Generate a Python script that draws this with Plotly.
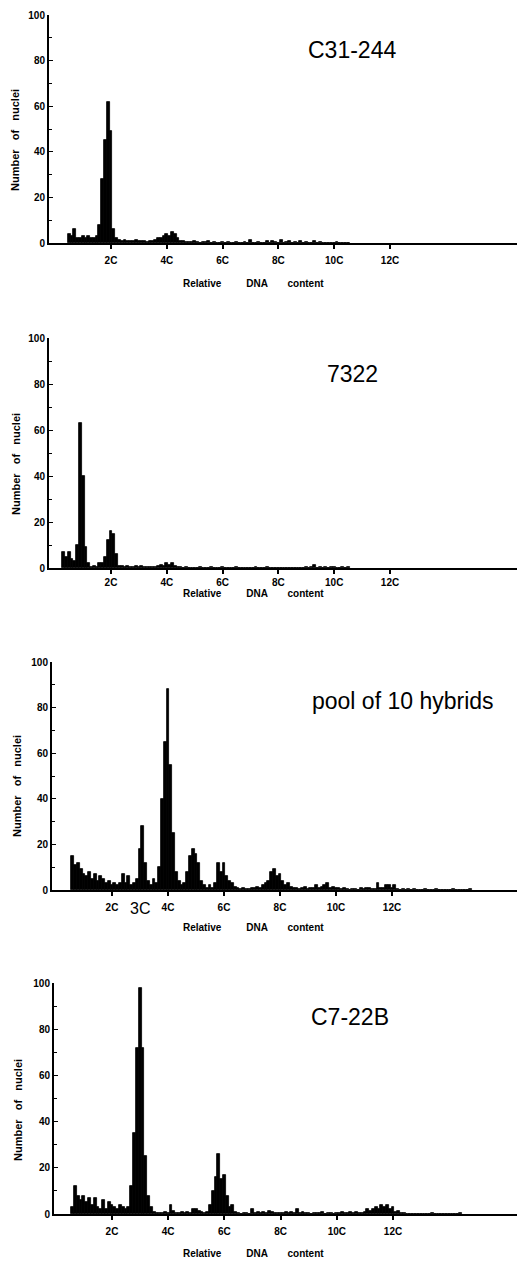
import plotly.graph_objects as go

W, H = 517, 1261

# ---------------- data (histogram counts, bins of 0.1 C) ----------------
titles = ["C31-244", "7322", "pool of 10 hybrids", "C7-22B"]
bin_starts = [0.5, 0.3, 0.6, 0.6]
bin_width = 0.1

counts_c31_244 = [
    4, 3, 6, 2, 2, 3, 2, 3, 2, 2, 3,
    8, 28, 45, 62, 49, 6,
    2, 1.5, 1, 1.5, 1, 1, 1, 1.5, 1,
    1, 1, 0.5, 1, 1, 1.5, 2, 2, 3, 4,
    3, 5, 4, 2, 1, 1, 0.5, 0.5, 0.5, 1,
    0.5, 0, 0.5, 0.5, 1, 0, 0.5, 0, 0, 0.5,
    0, 0.5, 0, 0, 0.5, 0, 0, 0.5, 0, 1.5,
    0, 0, 0.5, 0, 0, 1, 0, 1, 0.5, 0,
    1.5, 0, 0.5, 1, 0, 0.5, 0, 1, 0, 0.5,
    0, 0, 1, 0, 0.5, 0, 0, 0, 0, 0,
    0.5, 0, 0, 0, 0,
]

counts_7322 = [
    7, 5, 7, 4, 3, 10, 63, 40, 9, 2,
    0.5, 1, 0.5, 2, 2, 5, 12, 16, 15, 6,
    1, 1, 0.5, 1, 0.5, 0.5, 1, 0.5, 1, 0.5,
    0.5, 0.5, 0.5, 0.5, 1, 1.5, 1, 2, 1.5, 2,
    1, 0.5, 0.5, 0, 0.5, 0, 0, 0, 0, 0.5,
    0, 0, 0, 0.5, 0, 0, 0, 0.5, 0, 0,
    0, 0, 0.5, 0, 0, 0, 0, 0, 0, 0.5,
    0, 0, 0, 0.5, 0, 0, 0, 0, 0, 0,
    0, 0, 0, 0, 0, 0, 0, 0.5, 0, 0.5,
    1.5, 0, 0.5, 0, 0.5, 0, 0.5, 0.5, 0, 0,
    0.5, 0, 0.5,
]

counts_pool = [
    15, 11, 12, 9, 7, 6, 8, 5, 7, 4,
    6, 5, 3, 4, 2, 3, 2, 3, 7, 3,
    6, 2, 3, 5, 18, 28, 12, 4, 2, 5,
    3, 10, 40, 65, 88, 55, 25, 8, 4, 2,
    3, 8, 15, 18, 16, 12, 4, 2, 1, 2,
    1, 3, 12, 8, 12, 6, 4, 3, 1.5, 1,
    0.5, 1, 0.5, 0.5, 1, 1, 1.5, 1, 2, 3,
    4, 8, 9, 6, 7, 4, 2, 3, 1.5, 1,
    1, 0.5, 1, 1.5, 0.5, 1, 1, 2, 1, 1.5,
    2, 3, 1, 1.5, 1, 1, 0.5, 1, 0.5, 0,
    0.5, 0.5, 0, 1, 0.5, 1, 1, 0.5, 0.5, 3,
    1, 1, 2, 2, 1, 2, 0.5, 0, 0.5, 0,
    0.5, 0, 0.5, 0, 0, 0, 0.5, 0, 0, 0,
    0.5, 0, 0, 0, 0, 0, 0.5, 0, 0, 0,
    0, 0, 0.5,
]

counts_c7_22b = [
    3, 12, 8, 6, 8, 5, 7, 4, 7, 3,
    2, 6, 2, 5, 4, 3, 2, 4, 3, 2,
    3, 12, 35, 72, 98, 72, 25, 8, 3, 1,
    0.5, 0.5, 0.5, 1, 0.5, 4, 1.5, 0.5, 0.5, 1,
    0.5, 1, 0.5, 2, 2, 1.5, 1, 0.5, 1, 4,
    10, 16, 26, 15, 17, 8, 3, 4, 1, 0.5,
    0, 0.5, 0.5, 0, 2, 0.5, 1, 0.5, 1, 0.5,
    1.5, 1, 0.5, 0.5, 0.5, 0.5, 1, 0.5, 1, 0.5,
    2, 0.5, 1, 0.5, 0.5, 0, 0.5, 0.5, 0.5, 1,
    0, 0.5, 0.5, 0, 0.5, 0.5, 1, 0.5, 0.5, 1,
    0.5, 1, 0.5, 0.5, 1, 2, 1.5, 2, 3, 2,
    4, 3, 4, 2, 3, 1, 1.5, 0.5, 0.5, 0,
    0, 0, 0, 0, 0, 0, 0, 0, 0.5, 0,
    0, 0, 0, 0, 0, 0, 0, 0, 0.5,
]

series = [counts_c31_244, counts_7322, counts_pool, counts_c7_22b]

x_tick_vals = [2, 4, 6, 8, 10, 12]
x_tick_text = ["2C", "4C", "6C", "8C", "10C", "12C"]
x_title_words = ["Relative", "DNA", "content"]
y_title_words = ["Number", "of", "nuclei"]
extra_label = "3C"

# ---------------- geometry (pixels) ----------------
panels = [
    dict(left=49, top=15, bottom=243, zero=55.2, scale=27.9,
         title_xy=(352, 50), ylab_xy=(15, 140), xlab_y=283, std=3),
    dict(left=49, top=338, bottom=568, zero=55.2, scale=27.9,
         title_xy=(352, 374), ylab_xy=(16, 464), xlab_y=593, std=0),
    dict(left=52, top=662, bottom=890, zero=56.0, scale=28.0,
         title_xy=(403, 701), ylab_xy=(17, 786), xlab_y=927, std=3),
    dict(left=54, top=983, bottom=1214, zero=55.8, scale=28.1,
         title_xy=(350, 1017), ylab_xy=(18, 1110), xlab_y=1253, std=3),
]


def px(x):
    return x / W


def py(y):
    return 1 - y / H


FONT = "Liberation Sans, Arial, Helvetica, sans-serif"
bold_small = dict(family=FONT, size=10, color="black", weight="bold")

fig = go.Figure()
layout = dict(
    width=W, height=H, margin=dict(l=0, r=0, t=0, b=0, pad=0, autoexpand=False),
    paper_bgcolor="white", plot_bgcolor="white", showlegend=False,
    bargap=0, annotations=[],
)

for i, (p, vals, start) in enumerate(zip(panels, series, bin_starts)):
    k = "" if i == 0 else str(i + 1)
    xs = [round(start + bin_width * j, 2) for j in range(len(vals))]
    fig.add_trace(go.Bar(
        x=xs, y=vals, width=bin_width,
        marker=dict(color="black", line=dict(color="black", width=0.8)),
        xaxis="x" + k, yaxis="y" + k, hoverinfo="x+y",
    ))
    xmin = (p["left"] - p["zero"]) / p["scale"]
    xmax = (W - p["zero"]) / p["scale"]
    layout["xaxis" + k] = dict(
        domain=[px(p["left"]), 1], range=[xmin, xmax], anchor="y" + k,
        showline=True, linecolor="black", linewidth=1.5,
        ticks="outside", ticklen=4, tickwidth=1.5, tickcolor="black",
        tickvals=x_tick_vals, ticktext=x_tick_text, tickfont=bold_small,
        ticklabelstandoff=p["std"], automargin=False,
        showgrid=False, zeroline=False, fixedrange=True,
    )
    layout["yaxis" + k] = dict(
        domain=[py(p["bottom"]), py(p["top"])], range=[0, 100], anchor="x" + k,
        showline=True, linecolor="black", linewidth=2,
        ticks="inside", ticklen=4, tickwidth=1.2, tickcolor="black",
        tick0=0, dtick=20, tickfont=bold_small, automargin=False,
        minor=dict(ticks="inside", ticklen=3, tickwidth=1, tickcolor="black",
                   tick0=0, dtick=10),
        showgrid=False, zeroline=False, fixedrange=True,
    )
    ann = layout["annotations"]
    ann.append(dict(text=titles[i], x=px(p["title_xy"][0]), y=py(p["title_xy"][1]),
                    xref="paper", yref="paper", showarrow=False,
                    xanchor="center", yanchor="middle",
                    font=dict(family=FONT, size=23, color="black")))
    ann.append(dict(text=("&nbsp;" * 3).join(y_title_words), textangle=-90,
                    x=px(p["ylab_xy"][0]), y=py(p["ylab_xy"][1]),
                    xref="paper", yref="paper", showarrow=False,
                    xanchor="center", yanchor="middle",
                    font=dict(family=FONT, size=11, color="black", weight="bold")))
    xlab = (x_title_words[0] + "&nbsp;" * 9 + x_title_words[1]
            + "&nbsp;" * 7 + x_title_words[2])
    ann.append(dict(text=xlab, x=px(254), y=py(p["xlab_y"]),
                    xref="paper", yref="paper", showarrow=False,
                    xanchor="center", yanchor="middle",
                    font=dict(family=FONT, size=10, color="black", weight="bold")))

# "3C" marker under the pool panel
layout["annotations"].append(dict(
    text=extra_label, x=3, y=py(908), xref="x3", yref="paper", showarrow=False,
    xanchor="center", yanchor="middle",
    font=dict(family=FONT, size=16, color="black")))

fig.update_layout(**layout)
fig.write_html("out.html",
               config={"displayModeBar": False},
               post_script="document.body.style.margin='0px';"
                           "document.body.style.overflow='hidden';")
